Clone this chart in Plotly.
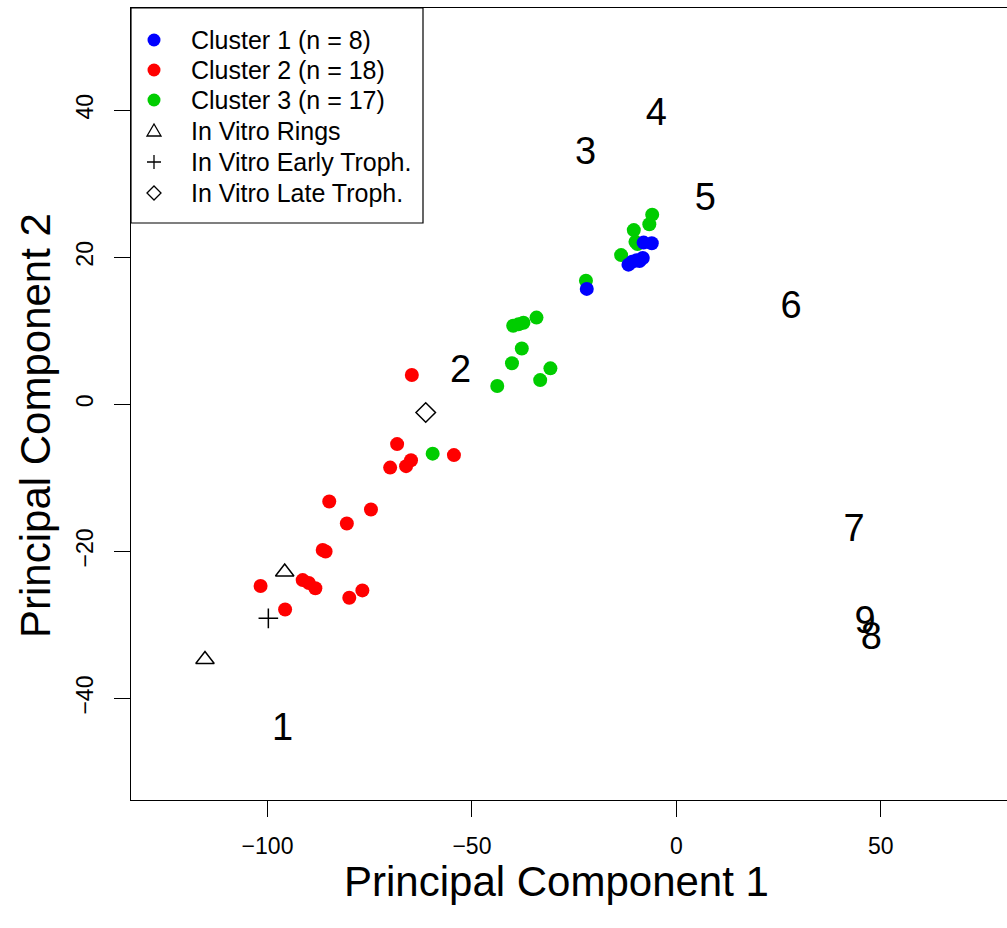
import plotly.graph_objects as go

# ---- data ----
c1_x = [-8.0, -6.0, -11.7, -10.8, -9.7, -8.2, -9.0, -21.9]
c1_y = [22.0, 21.9, 19.0, 19.4, 19.6, 19.9, 19.5, 15.7]

c2_x = [-64.7, -68.3, -54.4, -70.0, -66.1, -64.9, -84.9, -74.7, -80.6,
        -86.5, -85.8, -101.7, -91.4, -89.9, -88.3, -80.0, -76.8, -95.7]
c2_y = [4.0, -5.4, -6.9, -8.6, -8.4, -7.6, -13.2, -14.3, -16.2,
        -19.8, -20.0, -24.7, -23.9, -24.3, -25.0, -26.3, -25.3, -27.9]

c3_x = [-5.9, -6.6, -10.4, -10.0, -9.5, -13.5, -22.1, -39.9, -38.6, -37.4,
        -34.2, -37.8, -40.2, -30.8, -33.3, -43.8, -59.6]
c3_y = [25.8, 24.5, 23.7, 22.1, 21.8, 20.3, 16.8, 10.7, 10.9, 11.1,
        11.8, 7.6, 5.6, 4.9, 3.3, 2.5, -6.7]

rings_x = [-95.8, -115.3]
rings_y = [-22.8, -34.7]
early_x = [-99.8]
early_y = [-29.1]
late_x = [-61.3]
late_y = [-1.1]

lab_text = ["1", "2", "3", "4", "5", "6", "7", "8", "9"]
lab_x = [-96.3, -52.8, -22.2, -4.9, 7.1, 28.1, 43.5, 47.7, 46.2]
lab_y = [-44.4, 4.3, 34.0, 39.3, 27.7, 13.1, -17.3, -32.0, -29.8]

legend_labels = ["Cluster 1 (n = 8)", "Cluster 2 (n = 18)", "Cluster 3 (n = 17)",
                 "In Vitro Rings", "In Vitro Early Troph.", "In Vitro Late Troph."]
legend_kinds = ["dot", "dot", "dot", "triangle", "plus", "diamond"]
legend_colors = ["#0000FF", "#FF0000", "#00CD00", "black", "black", "black"]

FONT = "Liberation Sans, Arial, Helvetica, sans-serif"

# plot area geometry (pixels)
W, H = 1007, 928
ML, MR, MT, MB = 131, 0, 8, 128
PW, PH = W - ML - MR, H - MT - MB


def px_x(p):
    return (p - ML) / PW


def px_y(p):
    return 1 - (p - MT) / PH


fig = go.Figure()

fig.add_trace(go.Scatter(x=lab_x, y=lab_y, text=lab_text, mode="text",
                         textfont=dict(family=FONT, size=38, color="black"),
                         showlegend=False, hoverinfo="skip"))

fig.add_trace(go.Scatter(x=c3_x, y=c3_y, mode="markers", name=legend_labels[2],
                         marker=dict(color=legend_colors[2], size=14, line=dict(width=0))))
fig.add_trace(go.Scatter(x=c2_x, y=c2_y, mode="markers", name=legend_labels[1],
                         marker=dict(color=legend_colors[1], size=14, line=dict(width=0))))
fig.add_trace(go.Scatter(x=c1_x, y=c1_y, mode="markers", name=legend_labels[0],
                         marker=dict(color=legend_colors[0], size=14, line=dict(width=0))))
fig.add_trace(go.Scatter(x=rings_x, y=rings_y, mode="markers", name=legend_labels[3],
                         marker=dict(symbol="triangle-up-open", color="black", size=16,
                                     line=dict(width=1.5, color="black"))))
fig.add_trace(go.Scatter(x=early_x, y=early_y, mode="markers", name=legend_labels[4],
                         marker=dict(symbol="cross-thin-open", color="black", size=14,
                                     line=dict(width=1.5, color="black"))))
fig.add_trace(go.Scatter(x=late_x, y=late_y, mode="markers", name=legend_labels[5],
                         marker=dict(symbol="diamond-open", color="black", size=15,
                                     line=dict(width=1.5, color="black"))))

# ---- legend drawn as a boxed key (R style) ----
shapes = [dict(type="rect", xref="paper", yref="paper",
               x0=px_x(ML), x1=px_x(423), y0=px_y(223), y1=px_y(MT),
               line=dict(color="black", width=1.2), fillcolor="white", layer="above")]
annotations = []
row_px = [40, 70, 100, 131, 162, 193]
key_x = px_x(154)
text_x = px_x(189)
for lbl, kind, col, rp in zip(legend_labels, legend_kinds, legend_colors, row_px):
    ya = px_y(rp)
    base = dict(xref="paper", yref="paper", xsizemode="pixel", ysizemode="pixel",
                xanchor=key_x, yanchor=ya, layer="above")
    if kind == "dot":
        shapes.append(dict(type="circle", x0=-6.5, x1=6.5, y0=-6.5, y1=6.5,
                           fillcolor=col, line=dict(width=0, color=col), **base))
    elif kind == "triangle":
        shapes.append(dict(type="path", path="M -7,-5 L 7,-5 L 0,7 Z",
                           line=dict(width=1.3, color=col), **base))
    elif kind == "plus":
        shapes.append(dict(type="path", path="M -7,0 L 7,0 M 0,-7 L 0,7",
                           line=dict(width=1.3, color=col), **base))
    else:
        shapes.append(dict(type="path", path="M -7,0 L 0,7 L 7,0 L 0,-7 Z",
                           line=dict(width=1.3, color=col), **base))
    annotations.append(dict(xref="paper", yref="paper", x=text_x, y=ya,
                            xanchor="left", yanchor="middle", showarrow=False,
                            text=lbl, font=dict(family=FONT, size=25, color="black")))

# axis titles (placed as in the reference)
annotations.append(dict(xref="paper", yref="paper", x=px_x(556), y=px_y(881),
                        xanchor="center", yanchor="middle", showarrow=False,
                        text="Principal Component 1",
                        font=dict(family=FONT, size=42, color="black")))
annotations.append(dict(xref="paper", yref="paper", x=px_x(35), y=px_y(426),
                        xanchor="center", yanchor="middle", showarrow=False,
                        textangle=-90, text="Principal Component 2",
                        font=dict(family=FONT, size=42, color="black")))

fig.update_layout(
    width=W, height=H,
    margin=dict(l=ML, r=MR, t=MT, b=MB),
    plot_bgcolor="white", paper_bgcolor="white",
    font=dict(family=FONT, color="black"),
    showlegend=False,
    shapes=shapes, annotations=annotations,
)

fig.update_xaxes(range=[-133.4, 80.9], tickvals=[-100, -50, 0, 50],
                 ticktext=["\u2212100", "\u221250", "0", "50"],
                 showgrid=False, zeroline=False,
                 showline=True, linecolor="black", linewidth=1.2, mirror=True,
                 ticks="outside", ticklen=16, tickwidth=1.2, tickcolor="black",
                 tickfont=dict(family=FONT, size=23, color="black"),
                 ticklabelstandoff=9)

fig.update_yaxes(range=[-53.8, 53.9], tickvals=[-40, -20, 0, 20, 40],
                 ticktext=["\u221240", "\u221220", "0", "20", "40"],
                 showgrid=False, zeroline=False,
                 showline=True, linecolor="black", linewidth=1.2, mirror=False,
                 ticks="outside", ticklen=16, tickwidth=1.2, tickcolor="black",
                 tickangle=-90,
                 tickfont=dict(family=FONT, size=23, color="black"),
                 ticklabelstandoff=12)

fig.write_html("out.html")
